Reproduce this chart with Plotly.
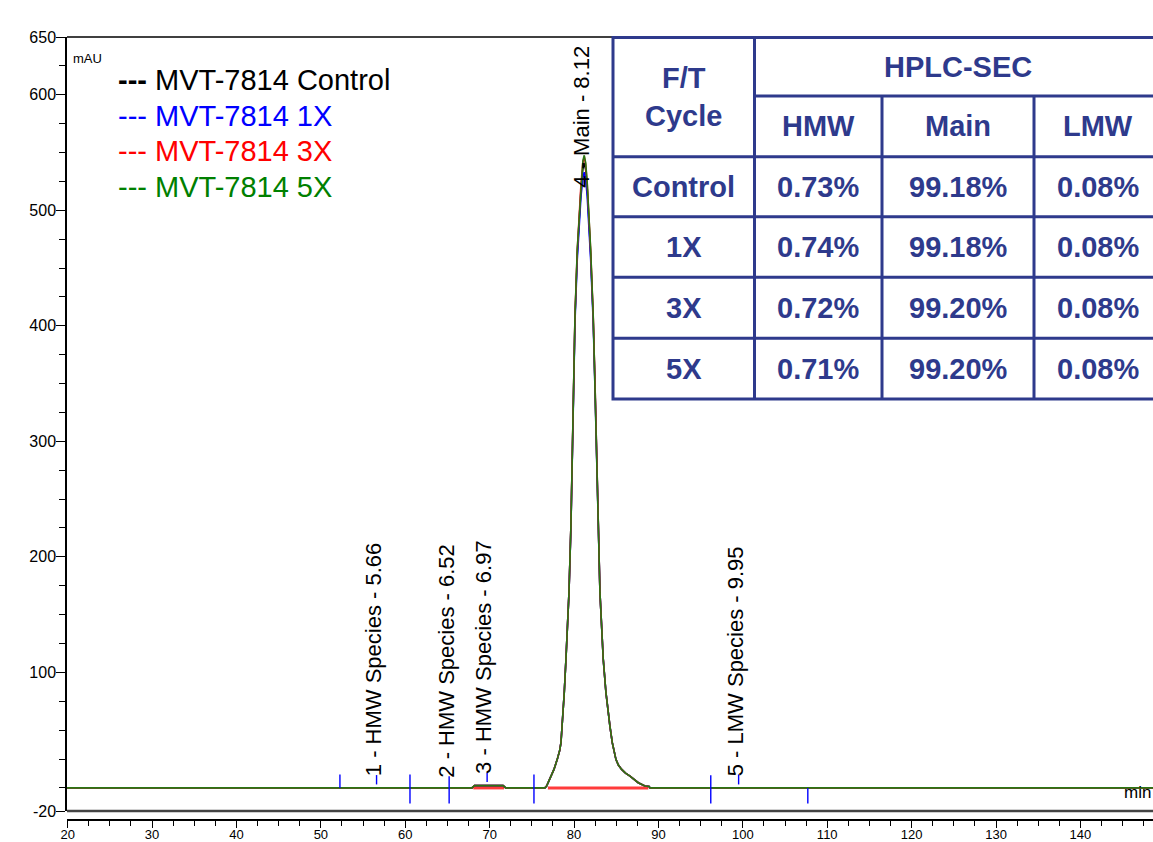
import plotly.graph_objects as go

# ---------------- data ----------------
# x axis is retention time x10 (as drawn on the reference axis)
time_x = [19.92, 67.9, 68.2, 71.6, 71.9, 76.55, 76.75, 76.94, 77.23, 77.62, 78.01,
          78.30, 78.45, 78.60, 78.84, 79.04, 79.40, 79.63, 79.72, 79.79, 79.91, 80.11,
          80.38, 80.82, 81.05, 81.21, 81.38, 81.56, 81.97, 82.27, 82.48, 82.68,
          82.80, 82.87, 83.07, 83.46, 83.78, 84.25, 84.53, 84.96, 85.25, 85.64, 86.10,
          86.63, 87.10, 87.61, 88.40, 88.90, 89.00, 148.6]

mvt_5x = [0, 0, 2, 2, 0, 0, 1.6, 4.5, 10.2, 16, 24.7,
          32.5, 39.1, 53.5, 82.4, 111.3, 169, 226.7, 267.1, 284.4, 350.8, 408.5,
          466.2, 524, 543, 547.6, 541, 524, 466.2, 408.5, 350.8, 284.4,
          267.1, 226.7, 169, 111.3, 82.4, 53.5, 39.1, 24.7, 19.8, 16, 12.8,
          10.2, 7.2, 4.5, 1.6, 1.2, 0, 0]

mvt_3x = [0, 0, 2, 2, 0, 0, 1.6, 4.5, 10.2, 16, 24.7,
          32.5, 39.1, 53.5, 82.4, 111.3, 169, 226.7, 267.1, 284.4, 350.8, 408.5,
          465, 523, 541.5, 546, 539.5, 523, 465, 408.5, 350.8, 284.4,
          267.1, 226.7, 169, 111.3, 82.4, 53.5, 39.1, 24.7, 19.8, 16, 12.8,
          10.2, 7.2, 4.5, 1.6, 1.2, 0, 0]

mvt_control = [0, 0, 2, 2, 0, 0, 1.6, 4.5, 10.2, 16, 24.7,
               32.5, 39.1, 53.5, 82.4, 111.3, 169, 226.7, 267.1, 284.4, 350.8, 407,
               462, 519, 536, 541, 535, 519, 462, 407, 350.8, 284.4,
               267.1, 226.7, 169, 111.3, 82.4, 53.5, 39.1, 24.7, 19.8, 16, 12.8,
               10.2, 7.2, 4.5, 1.6, 1.2, 0, 0]

mvt_1x = [0, 0, 2, 2, 0, 0, 1.6, 4.5, 10.2, 16, 24.7,
          32.5, 39.1, 53.5, 82.4, 111.3, 169, 225, 264, 281, 346, 403,
          457, 512, 528, 533, 527, 512, 457, 403, 346, 281,
          264, 225, 169, 111.3, 82.4, 53.5, 39.1, 24.7, 19.8, 16, 12.8,
          10.2, 7.2, 4.5, 1.6, 1.2, 0, 0]

series_names = ["MVT-7814 Control", "MVT-7814 1X", "MVT-7814 3X", "MVT-7814 5X"]
series_values = [mvt_control, mvt_1x, mvt_3x, mvt_5x]
series_colors = ["#000000", "#0000FF", "#FF0000", "#008000"]
series_line_colors = ["#000000", "#0000FF", "#FF2020", "#2A7512"]

# peak labels
peak_rt = [5.66, 6.52, 6.97, 8.12, 9.95]
peak_names = ["1 - HMW Species", "2 - HMW Species", "3 - HMW Species", "4 - Main", "5 - LMW Species"]
peak_label_base = [8.0, 7.2, 10.5, 518, 8.0]

# blue peak delimiter / retention markers
marker_x = [52.26, 56.6, 60.56, 65.2, 69.7, 75.25, 81.2, 96.2, 99.5, 107.7]
marker_lo = [0, 3, -13.4, -13.4, 5, -13.4, 520, -13.4, 3, -13.4]
marker_hi = [11.7, 11.1, 11.7, 10, 13.4, 11.7, 532, 11, 11.7, 0]

# red integration baselines
integ_start = [68.06, 76.9]
integ_end = [71.7, 88.8]
integ_level = [0, 0]

# axis ticks
ytick_vals = [-20, 100, 200, 300, 400, 500, 600, 650]
xtick_vals = [20, 30, 40, 50, 60, 70, 80, 90, 100, 110, 120, 130, 140, 150]

# table
table_cycles = ["Control", "1X", "3X", "5X"]
table_hmw = ["0.73%", "0.74%", "0.72%", "0.71%"]
table_main = ["99.18%", "99.18%", "99.20%", "99.20%"]
table_lmw = ["0.08%", "0.08%", "0.08%", "0.08%"]

# ---------------- layout helpers ----------------
W, H = 1153, 842
ML, MT, MB = 67, 37, 22
PLOT_W = W - ML
PLOT_H = H - MT - MB


def px_x(px):
    return (px - ML) / PLOT_W


def px_y(py):
    return (H - MB - py) / PLOT_H


NARROW = "Liberation Sans Narrow, Arial Narrow, Liberation Sans, Arial, sans-serif"
ARIAL = "Liberation Sans, Arial, sans-serif"
NAVY = "#2E3A8C"

fig = go.Figure()

# integration baselines (below curves)
ix, iy = [], []
for s, e, l in zip(integ_start, integ_end, integ_level):
    ix += [s, e, None]
    iy += [l, l, None]
fig.add_trace(go.Scatter(x=ix, y=iy, mode="lines", line=dict(color="#FF3B3B", width=3),
                         showlegend=False, hoverinfo="skip"))

# chromatograms
for name, vals, col in zip(series_names, series_values, series_line_colors):
    fig.add_trace(go.Scatter(x=time_x, y=vals, mode="lines", name=name,
                             line=dict(color=col, width=1.6), showlegend=False))

# blue markers
mx, my = [], []
for x, lo, hi in zip(marker_x, marker_lo, marker_hi):
    mx += [x, x, None]
    my += [lo, hi, None]
fig.add_trace(go.Scatter(x=mx, y=my, mode="lines", line=dict(color="#0000FF", width=1.4),
                         showlegend=False, hoverinfo="skip"))

annotations = []

# peak labels (rotated)
for rt, nm, base in zip(peak_rt, peak_names, peak_label_base):
    annotations.append(dict(x=rt * 10, y=base, xref="x", yref="y",
                            text=f"{nm} - {rt:.2f}", textangle=-90, showarrow=False,
                            xanchor="center", yanchor="bottom", xshift=-3,
                            font=dict(family=ARIAL, size=22, color="black")))

# mAU and min
annotations.append(dict(x=px_x(71), y=px_y(58), xref="paper", yref="paper", text="mAU",
                        showarrow=False, xanchor="left", yanchor="middle",
                        font=dict(family=NARROW, size=13, color="black")))
annotations.append(dict(x=1.0, y=px_y(792), xref="paper", yref="paper", text="min",
                        showarrow=False, xanchor="right", yanchor="middle",
                        font=dict(family=NARROW, size=17, color="black")))

# legend text box
leg_y = [80, 116, 151, 187]
for i, (nm, col) in enumerate(zip(series_names, series_colors)):
    dash = "<b>---</b>" if i == 0 else "---"
    annotations.append(dict(x=px_x(116), y=px_y(leg_y[i]), xref="paper", yref="paper",
                            text=f"{dash} {nm}", showarrow=False, xanchor="left",
                            yanchor="middle", font=dict(family=ARIAL, size=29, color=col)))

# table geometry
cols = [613, 754.5, 882, 1034, 1161]
rows = [37.5, 96, 156.7, 216.7, 277.3, 338.3, 399]
shapes = []
lw = 3
shapes.append(dict(type="rect", xref="paper", yref="paper", x0=px_x(cols[0]), x1=px_x(cols[-1]),
                   y0=px_y(rows[0]), y1=px_y(rows[-1]), fillcolor="white",
                   line=dict(color=NAVY, width=lw), layer="above"))
shapes.append(dict(type="line", xref="paper", yref="paper", x0=px_x(cols[1]), x1=px_x(cols[1]),
                   y0=px_y(rows[0]), y1=px_y(rows[-1]), line=dict(color=NAVY, width=lw)))
for c in cols[2:4]:
    shapes.append(dict(type="line", xref="paper", yref="paper", x0=px_x(c), x1=px_x(c),
                       y0=px_y(rows[1]), y1=px_y(rows[-1]), line=dict(color=NAVY, width=lw)))
shapes.append(dict(type="line", xref="paper", yref="paper", x0=px_x(cols[1]), x1=px_x(cols[-1]),
                   y0=px_y(rows[1]), y1=px_y(rows[1]), line=dict(color=NAVY, width=lw)))
for r in rows[2:-1]:
    shapes.append(dict(type="line", xref="paper", yref="paper", x0=px_x(cols[0]), x1=px_x(cols[-1]),
                       y0=px_y(r), y1=px_y(r), line=dict(color=NAVY, width=lw)))


def cell_text(txt, cx, cy):
    annotations.append(dict(x=px_x(cx), y=px_y(cy), xref="paper", yref="paper",
                            text=f"<b>{txt}</b>", showarrow=False, xanchor="center",
                            yanchor="middle", font=dict(family=ARIAL, size=29, color=NAVY)))


cell_text("F/T<br>Cycle", (cols[0] + cols[1]) / 2, (rows[0] + rows[2]) / 2)
cell_text("HPLC-SEC", (cols[1] + cols[-1]) / 2, (rows[0] + rows[1]) / 2)
for j, h in enumerate(["HMW", "Main", "LMW"]):
    cell_text(h, (cols[j + 1] + cols[j + 2]) / 2, (rows[1] + rows[2]) / 2)
for i in range(len(table_cycles)):
    cy = (rows[i + 2] + rows[i + 3]) / 2
    row_vals = [table_cycles[i], table_hmw[i], table_main[i], table_lmw[i]]
    for j, v in enumerate(row_vals):
        cell_text(v, (cols[j] + cols[j + 1]) / 2, cy)

# plot frame lines (top and bottom of the chart box)
shapes.append(dict(type="line", xref="paper", yref="y domain", x0=0, x1=1, y0=1, y1=1,
                   line=dict(color="black", width=1.5), layer="below"))
shapes.append(dict(type="line", xref="paper", yref="y domain", x0=0, x1=1, y0=0, y1=0,
                   line=dict(color="#444444", width=2.5), layer="below"))

fig.update_layout(
    width=W, height=H,
    margin=dict(l=ML, r=0, t=MT, b=MB, pad=0, autoexpand=False),
    paper_bgcolor="white", plot_bgcolor="white",
    showlegend=False,
    shapes=shapes,
    annotations=annotations,
    xaxis=dict(range=[19.92, 148.6], anchor="free", position=0, showgrid=False, zeroline=False,
               automargin=False,
               showline=True, linecolor="black", linewidth=1.5,
               tickmode="array", tickvals=xtick_vals, ticktext=[str(v) for v in xtick_vals],
               ticks="outside", ticklen=7, tickcolor="black", tickwidth=1,
               ticklabelstandoff=-4,
               minor=dict(dtick=2.5, tick0=20, ticks="outside", ticklen=5, tickcolor="black"),
               tickfont=dict(family=NARROW, size=13, color="black")),
    yaxis=dict(range=[-20, 650], domain=[(H - MB - 811) / PLOT_H, 1], showgrid=False,
               automargin=False,
               zeroline=False, showline=True, linecolor="black", linewidth=1.5,
               tickmode="array", tickvals=ytick_vals, ticktext=[str(v) for v in ytick_vals],
               ticks="outside", ticklen=9, tickcolor="black", tickwidth=1,
               ticklabelstandoff=-3,
               minor=dict(dtick=25, tick0=0, ticks="outside", ticklen=6, tickcolor="black"),
               tickfont=dict(family=NARROW, size=16, color="black")),
)

fig.write_html("out.html")
